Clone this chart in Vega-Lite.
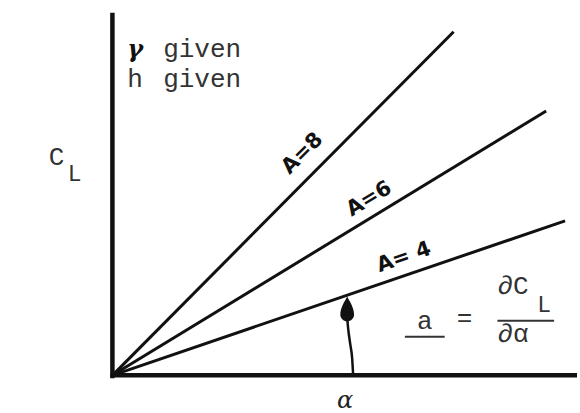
{
  "$schema": "https://vega.github.io/schema/vega-lite/v6.json",
  "width": 580,
  "height": 413,
  "padding": 0,
  "autosize": {"type": "fit", "contains": "padding"},
  "background": "white",
  "config": {"view": {"stroke": null}},
  "datasets": {
    "axes": [
      {"x": 0, "y": -0.3, "x2": 0, "y2": 36.6},
      {"x": -0.2, "y": 0, "x2": 46.7, "y2": 0}
    ],
    "lines": [
      {"A": 8, "x": 0, "y": 0}, {"A": 8, "x": 34.3, "y": 34.7},
      {"A": 6, "x": 0, "y": 0}, {"A": 6, "x": 43.6, "y": 26.7},
      {"A": 4, "x": 0, "y": 0}, {"A": 4, "x": 45.5, "y": 15.6}
    ],
    "lab8": [{"x": 19.1, "y": 22.4, "t": "A=8"}],
    "lab6": [{"x": 25.8, "y": 17.8, "t": "A=6"}],
    "lab4": [{"x": 29.3, "y": 11.9, "t": "A= 4"}],
    "gamma": [{"x": 1.5, "y": 32.1, "t": "γ"}],
    "given": [
      {"x": 5.1, "y": 32.1, "t": "given"},
      {"x": 1.5, "y": 29.1, "t": "h"},
      {"x": 5.1, "y": 29.1, "t": "given"}
    ],
    "big": [
      {"x": -6.4, "y": 21.2, "t": "C"},
      {"x": 38.7, "y": 8.2, "t": "∂C"},
      {"x": 38.7, "y": 3.4, "t": "∂α"}
    ],
    "sub": [
      {"x": -4.5, "y": 19.6, "t": "L"},
      {"x": 42.7, "y": 6.4, "t": "L"}
    ],
    "mid": [
      {"x": 31.4, "y": 4.7, "t": "a"},
      {"x": 35.4, "y": 5.0, "t": "="}
    ],
    "bars": [
      {"x": 29.4, "x2": 33.4, "y": 3.9, "y2": 3.9},
      {"x": 38.7, "x2": 44.4, "y": 5.5, "y2": 5.5}
    ],
    "arc": [
      {"x": 24.2, "y": 0},
      {"x": 24.1, "y": 1.7},
      {"x": 23.9, "y": 3.2},
      {"x": 23.7, "y": 4.7},
      {"x": 23.6, "y": 5.8}
    ],
    "head": [{"x": 23.6, "y": 6.7}],
    "alpha": [{"x": 23.4, "y": -2.6, "t": "α"}]
  },
  "encoding": {
    "x": {"field": "x", "type": "quantitative", "scale": {"domain": [-11.3, 46.7], "nice": false, "zero": false}, "axis": null},
    "y": {"field": "y", "type": "quantitative", "scale": {"domain": [-3.4, 37.9], "nice": false, "zero": false}, "axis": null}
  },
  "layer": [
    {
      "data": {"name": "axes"},
      "mark": {"type": "rule", "strokeWidth": 4.5, "color": "#111"},
      "encoding": {"x2": {"field": "x2"}, "y2": {"field": "y2"}}
    },
    {
      "data": {"name": "lines"},
      "mark": {"type": "line", "strokeWidth": 3, "color": "#111"},
      "encoding": {"detail": {"field": "A", "type": "nominal"}}
    },
    {
      "data": {"name": "lab8"},
      "mark": {"type": "text", "angle": -45, "font": "DejaVu Sans", "fontWeight": "bold", "fontSize": 21, "color": "#111"},
      "encoding": {"text": {"field": "t"}}
    },
    {
      "data": {"name": "lab6"},
      "mark": {"type": "text", "angle": -31, "font": "DejaVu Sans", "fontWeight": "bold", "fontSize": 21, "color": "#111"},
      "encoding": {"text": {"field": "t"}}
    },
    {
      "data": {"name": "lab4"},
      "mark": {"type": "text", "angle": -19, "font": "DejaVu Sans", "fontWeight": "bold", "fontSize": 21, "color": "#111"},
      "encoding": {"text": {"field": "t"}}
    },
    {
      "data": {"name": "gamma"},
      "mark": {"type": "text", "align": "left", "baseline": "alphabetic", "font": "DejaVu Serif", "fontWeight": "bold", "fontStyle": "italic", "fontSize": 24, "color": "#111"},
      "encoding": {"text": {"field": "t"}}
    },
    {
      "data": {"name": "given"},
      "mark": {"type": "text", "align": "left", "baseline": "alphabetic", "font": "Liberation Mono", "fontSize": 26, "color": "#333"},
      "encoding": {"text": {"field": "t"}}
    },
    {
      "data": {"name": "big"},
      "mark": {"type": "text", "align": "left", "baseline": "alphabetic", "font": "Liberation Mono", "fontSize": 26, "color": "#333"},
      "encoding": {"text": {"field": "t"}}
    },
    {
      "data": {"name": "sub"},
      "mark": {"type": "text", "align": "left", "baseline": "alphabetic", "font": "Liberation Mono", "fontSize": 23, "color": "#333"},
      "encoding": {"text": {"field": "t"}}
    },
    {
      "data": {"name": "mid"},
      "mark": {"type": "text", "align": "center", "baseline": "alphabetic", "font": "Liberation Mono", "fontSize": 26, "color": "#333"},
      "encoding": {"text": {"field": "t"}}
    },
    {
      "data": {"name": "bars"},
      "mark": {"type": "rule", "strokeWidth": 2, "color": "#333"},
      "encoding": {"x2": {"field": "x2"}, "y2": {"field": "y2"}}
    },
    {
      "data": {"name": "arc"},
      "mark": {"type": "line", "strokeWidth": 2.5, "color": "#111", "interpolate": "monotone"},
      "encoding": {"order": {"field": "y", "type": "quantitative"}}
    },
    {
      "data": {"name": "head"},
      "mark": {"type": "point", "filled": true, "opacity": 1, "color": "#111", "size": 625, "shape": "M0,-1 C0.2,-0.6 0.55,-0.1 0.55,0.45 A0.55,0.55 0 0 1 -0.55,0.45 C-0.55,-0.1 -0.2,-0.6 0,-1 Z"},
      "encoding": {}
    },
    {
      "data": {"name": "alpha"},
      "mark": {"type": "text", "font": "DejaVu Serif", "fontStyle": "italic", "fontSize": 24, "color": "#222"},
      "encoding": {"text": {"field": "t"}}
    }
  ]
}
